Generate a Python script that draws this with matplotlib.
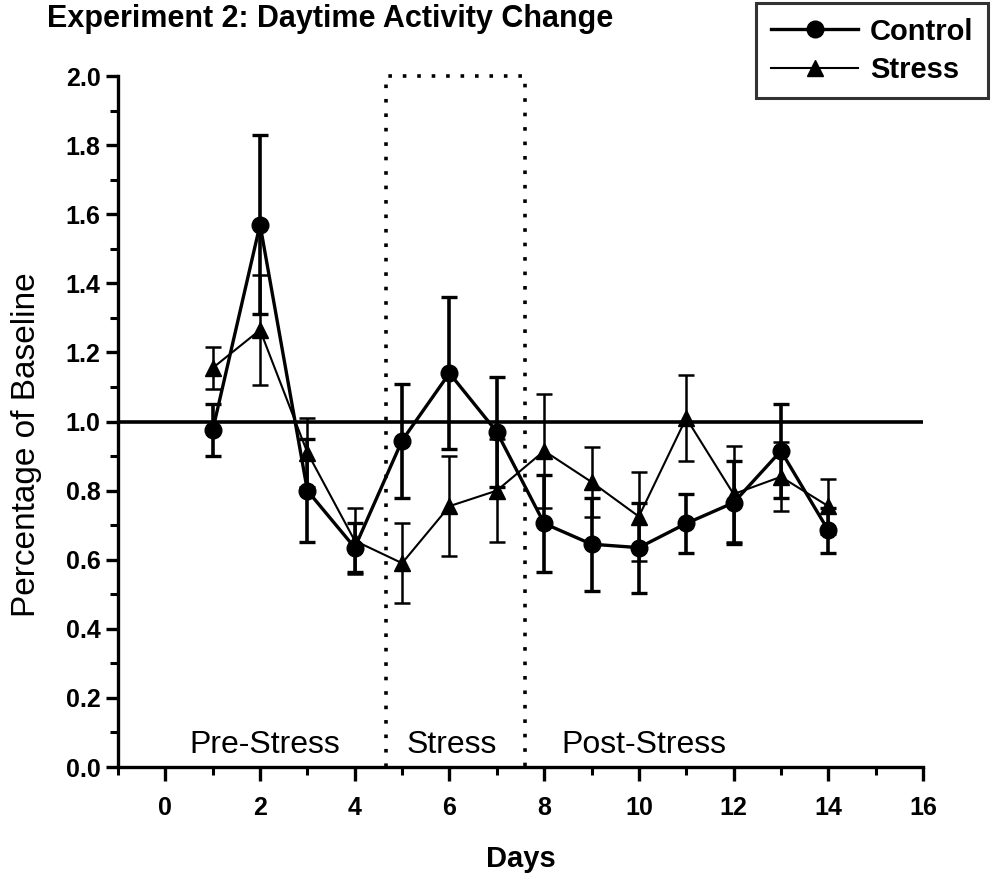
import numpy as np
import matplotlib
matplotlib.use("Agg")
import matplotlib.pyplot as plt
from matplotlib.lines import Line2D

plt.rcParams['font.family'] = ['Liberation Sans', 'DejaVu Sans']

days = [1, 2, 3, 4, 5, 6, 7, 8, 9, 10, 11, 12, 13, 14]

control = [0.975, 1.57, 0.80, 0.635, 0.945, 1.14, 0.97, 0.705, 0.645, 0.635, 0.705, 0.765, 0.915, 0.685]
control_err = [0.075, 0.26, 0.15, 0.07, 0.165, 0.22, 0.16, 0.14, 0.135, 0.13, 0.085, 0.12, 0.135, 0.065]

stress = [1.155, 1.265, 0.91, 0.655, 0.59, 0.755, 0.80, 0.915, 0.825, 0.725, 1.01, 0.79, 0.84, 0.755]
stress_err = [0.06, 0.16, 0.10, 0.095, 0.115, 0.145, 0.15, 0.165, 0.10, 0.13, 0.125, 0.14, 0.10, 0.08]

phase_names = ["Pre-Stress", "Stress", "Post-Stress"]
phase_x = [2.1, 6.05, 10.1]
stress_start = 4.65
stress_end = 7.6

fig = plt.figure(figsize=(9.99, 8.77), dpi=100)
ax = fig.add_axes([0.1181, 0.1254, 0.8058, 0.7879])

# baseline
ax.plot([-1, 16], [1.0, 1.0], color='black', lw=2.6, zorder=1)

# stress period box
ax.plot([stress_start, stress_start, stress_end, stress_end], [0, 2.0, 2.0, 0],
        color='black', lw=2.6, ls=(0, (1, 3.0)), clip_on=False, zorder=1)

ax.errorbar(days, control, yerr=control_err, color='black', marker='o', ms=12,
            lw=2.4, elinewidth=2.6, capsize=6, capthick=2.4, zorder=3)
ax.errorbar(days, stress, yerr=stress_err, color='black', marker='^', ms=12,
            lw=1.5, elinewidth=1.8, capsize=6, capthick=1.8, zorder=3)

for name, xp in zip(phase_names, phase_x):
    ax.text(xp, 0.02, name, ha='center', va='bottom', fontsize=23)

ax.set_xlim(-1, 16)
ax.set_ylim(0, 2.0)
ax.set_xticks(np.arange(0, 17, 2))
ax.set_xticks(np.arange(-1, 16, 2), minor=True)
ax.set_yticks(np.arange(0, 2.01, 0.2))
ax.set_yticks(np.arange(0.1, 2.0, 0.2), minor=True)
ax.set_yticklabels(["%.1f" % v for v in np.arange(0, 2.01, 0.2)])

for s in ['top', 'right']:
    ax.spines[s].set_visible(False)
for s in ['left', 'bottom']:
    ax.spines[s].set_linewidth(2.4)

ax.tick_params(axis='x', which='major', length=10, width=2.4, pad=11, labelsize=18)
ax.tick_params(axis='x', which='minor', length=6, width=2.2)
ax.tick_params(axis='y', which='major', length=8.5, width=2.4, pad=4, labelsize=18)
ax.tick_params(axis='y', which='minor', length=5.5, width=2.2)
for lab in ax.get_xticklabels() + ax.get_yticklabels():
    lab.set_fontweight('bold')

ax.set_xlabel('Days', fontsize=21, fontweight='bold', labelpad=18)
ax.set_ylabel('Percentage of Baseline', fontsize=24)
ax.yaxis.set_label_coords(-0.094, 0.467)

fig.text(0.047, 1 - 4 / 877, 'Experiment 2: Daytime Activity Change',
         fontsize=22, fontweight='bold', ha='left', va='top')

handles = [Line2D([], [], color='black', marker='o', ms=12, lw=2.4),
           Line2D([], [], color='black', marker='^', ms=12, lw=1.5)]
leg = ax.legend(handles, ['Control', 'Stress'], loc='upper right',
                bbox_to_anchor=(988 / 999, 1 - 3 / 877),
                bbox_transform=fig.transFigure, frameon=True, fancybox=False,
                fontsize=21, handlelength=3.0, handletextpad=0.4, labelspacing=0.35,
                borderpad=0.5, borderaxespad=0, numpoints=1)
leg.get_frame().set_edgecolor('black')
leg.get_frame().set_linewidth(2.2)
for t in leg.get_texts():
    t.set_fontweight('bold')

fig.savefig('out.png', dpi=100)
